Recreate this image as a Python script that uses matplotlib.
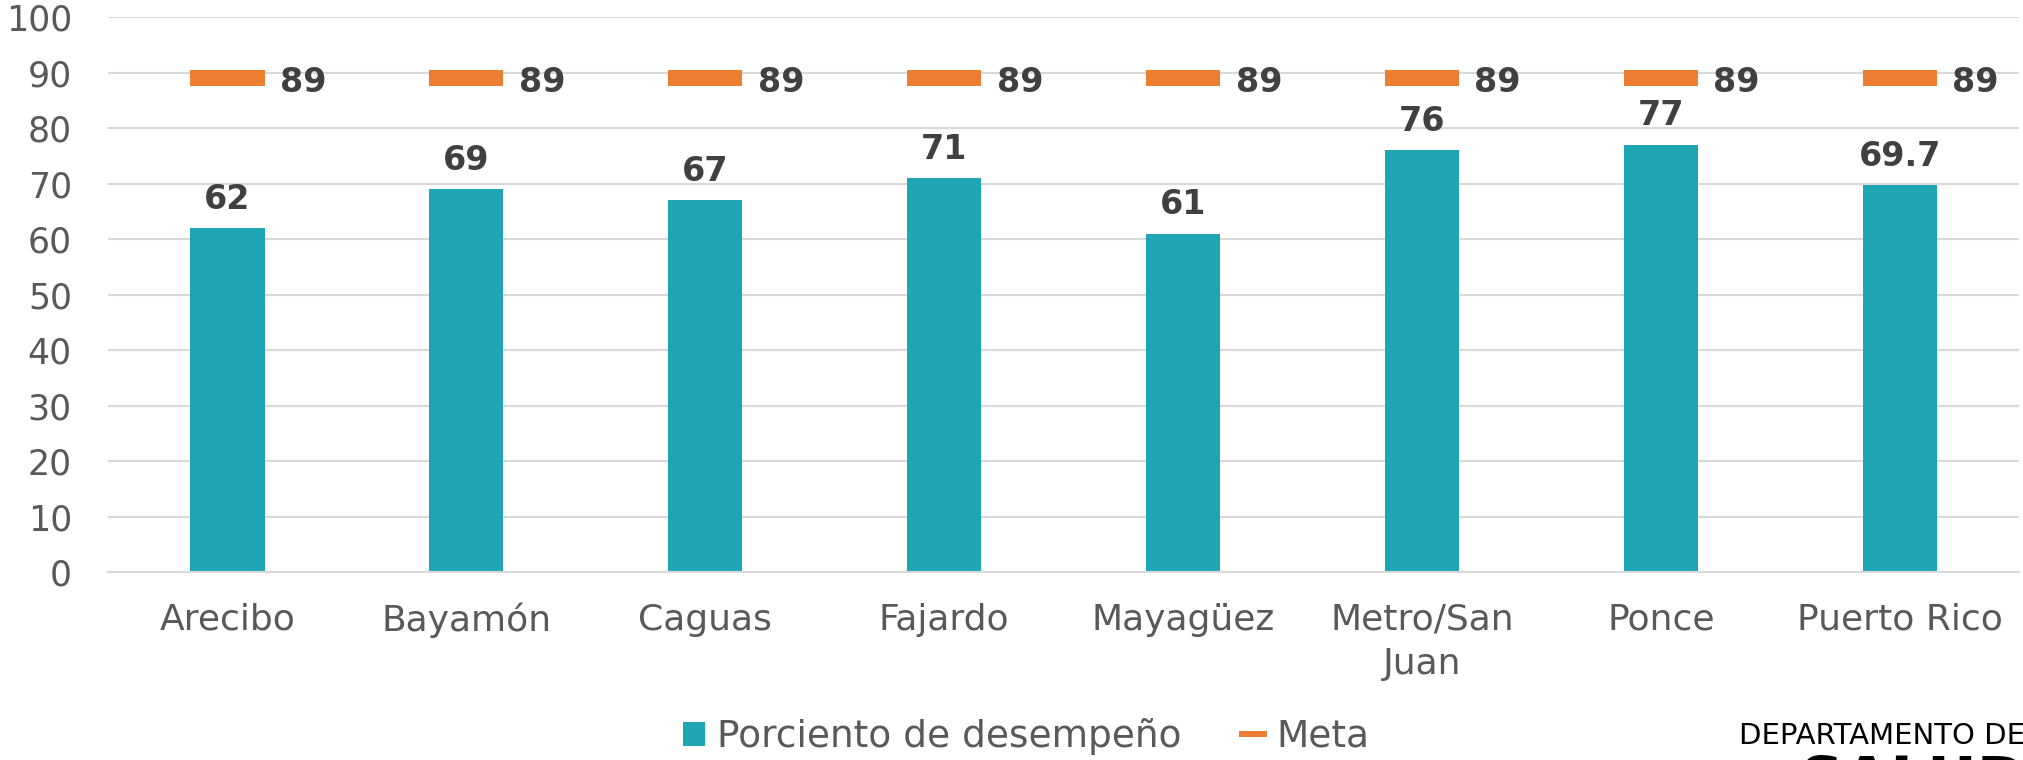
import numpy as np
import matplotlib.pyplot as plt
from matplotlib.patches import Patch
from matplotlib.lines import Line2D

plt.rcParams['font.family'] = ['DejaVu Sans']

# data
regiones = ['Arecibo', 'Bayamón', 'Caguas', 'Fajardo', 'Mayagüez',
            'Metro/San\nJuan', 'Ponce', 'Puerto Rico']
desempeno = [62, 69, 67, 71, 61, 76, 77, 69.7]
meta = [89, 89, 89, 89, 89, 89, 89, 89]
yticks = [0, 10, 20, 30, 40, 50, 60, 70, 80, 90, 100]

teal = '#1EA6B4'
orange = '#ED7D31'
gray = '#595959'
dark = '#404040'

fig = plt.figure(figsize=(20.24, 7.6), dpi=100)
ax = fig.add_axes([108 / 2024, 1 - 572 / 760, 1911.5 / 2024, 554.7 / 760])

x = np.arange(len(regiones))
bw = 0.31

ax.bar(x, desempeno, width=bw, color=teal, zorder=2)
ax.hlines(meta, x - 0.155, x + 0.155, colors=orange, lw=11.5, zorder=3)

# value labels
for xi, v in zip(x, desempeno):
    ax.annotate(f'{v:g}', xy=(xi, v), xytext=(0, 14), textcoords='offset points',
                ha='center', va='baseline', fontsize=24, fontweight='bold', color=dark)
for xi, m in zip(x, meta):
    ax.annotate(f'{m:g}', xy=(xi + 0.155, m), xytext=(11, -3), textcoords='offset points',
                ha='left', va='center', fontsize=24, fontweight='bold', color=dark)

ax.set_xlim(-0.5, len(regiones) - 0.5)
ax.set_ylim(0, 100)
ax.set_yticks(yticks)
ax.set_xticks(x)
ax.set_xticklabels(regiones, fontsize=26, color=gray, linespacing=1.4)
ax.tick_params(axis='y', length=0, pad=26, labelsize=25, labelcolor=gray)
ax.tick_params(axis='x', length=0, pad=22)

ax.yaxis.grid(True, color='#D9D9D9', lw=1.5, zorder=0)
ax.set_axisbelow(True)
for s in ['top', 'left', 'right']:
    ax.spines[s].set_visible(False)
ax.spines['bottom'].set_color('#D9D9D9')
ax.spines['bottom'].set_linewidth(1.5)

handles = [Patch(facecolor=teal, edgecolor='none'),
           Line2D([0], [0], color=orange, lw=4.3)]
fig.legend(handles, ['Porciento de desempeño', 'Meta'], loc='center',
           bbox_to_anchor=(0.507, 0.031), ncol=2, frameon=False,
           fontsize=27, labelcolor=gray, handlelength=0.6, handleheight=0.6,
           handletextpad=0.33, columnspacing=1.6, borderpad=0)

# logo text at bottom right
fig.text(1739 / 2024, 1 - 722 / 760, 'DEPARTAMENTO DE', fontsize=21,
         color='black', ha='left', va='top')
fig.text(1800 / 2024, 1 - 754 / 760, 'SALUD', fontsize=44, fontweight='bold',
         color='black', ha='left', va='top')

fig.savefig('out.png', dpi=100)
